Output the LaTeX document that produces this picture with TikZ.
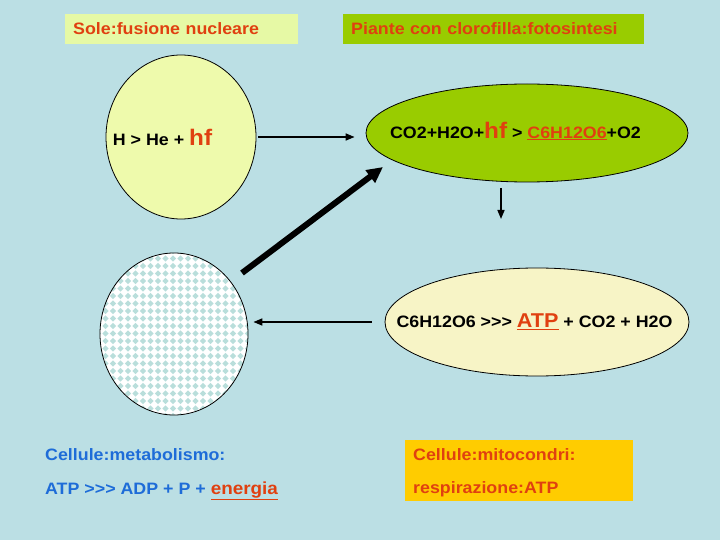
\documentclass[tikz,border=0pt]{standalone}
\usepackage{fontspec}
\setmainfont{Liberation Sans}[FakeStretch=1.08, Ligatures=TeXOff]
\usetikzlibrary{shapes.geometric,arrows.meta,calc}
\definecolor{bg}{HTML}{BBDFE4}
\definecolor{yelbox}{HTML}{E6F9A5}
\definecolor{yelcirc}{HTML}{EEFAAC}
\definecolor{grn}{HTML}{99CC00}
\definecolor{org}{HTML}{E04010}
\definecolor{blu}{HTML}{1E6CD8}
\definecolor{gold}{HTML}{FFCC00}
\definecolor{pale}{HTML}{F7F4C6}
\definecolor{pat}{HTML}{B9DEDB}
\tikzset{
  txt/.style={font=\fontsize{16.5}{18}\selectfont\bfseries, inner sep=0pt},
  hdrbox/.style={anchor=west, minimum height=30pt, inner xsep=8pt, inner ysep=0pt, align=left, text=org, font=\fontsize{16.5}{18}\selectfont\bfseries},
  shp/.style={draw=black, line width=0.8pt, ellipse, inner sep=0pt},
  thinarr/.style={line width=1.6pt, -{Triangle[length=9pt,width=7pt]}},
  thickarr/.style={line width=6pt, -{Triangle[length=16pt,width=15pt]}}
}
\newcommand{\bigt}[1]{{\fontsize{22.5}{23}\selectfont\color{org}#1}}
\begin{document}
\begin{tikzpicture}[x=1pt,y=-1pt]
\fill[bg] (0,0) rectangle (720,540);
\useasboundingbox (0,0) rectangle (720,540);
% headers
\node[hdrbox, fill=yelbox, text width=217pt] (sole) at (65,29) {Sole:fusione nucleare};
\node[hdrbox, fill=grn, text width=285pt] (piante) at (343,29) {Piante con clorofilla:fotosintesi};
% circle 1
\node[shp, fill=yelcirc, minimum width=150pt, minimum height=164pt] (c1) at (181,137) {};
\node[txt] (t1) at (162.5,137) {H > He + \bigt{hf}};
% ellipse 2
\node[shp, fill=grn, minimum width=322pt, minimum height=98pt] (e2) at (527,133) {};
\node[txt] (t2) at (515.5,131) {CO2+H2O+\bigt{hf} > {\color{org}\underline{C6H12O6}}+O2};
% patterned circle
\begin{scope}
\clip (174,334) ellipse [x radius=74, y radius=81];
\fill[white] (95,248) rectangle (255,420);
\foreach \i in {0,...,21}{
  \foreach \j in {0,...,23}{
    \fill[pat] ($(98,251)+(\i*7.5,\j*7.5)$) +(0,-3.2) -- +(3.2,0) -- +(0,3.2) -- +(-3.2,0) -- cycle;
  }
}
\end{scope}
\node[shp, minimum width=148pt, minimum height=162pt] (c3) at (174,334) {};
% ellipse 4
\node[shp, fill=pale, minimum width=304pt, minimum height=108pt] (e4) at (537,322) {};
\node[txt] (t4) at (534.5,322) {C6H12O6 >>> {\fontsize{20}{21}\selectfont\color{org}\underline{ATP}} + CO2 + H2O};
% arrows
\draw[thinarr, shorten <=2pt, shorten >=11pt] (c1.east) -- (c1.east -| e2.west);
\coordinate (va) at (501,188);
\coordinate (vb) at (501,219);
\draw[thinarr] (va) -- (vb);
\coordinate (ta) at (242,273);
\coordinate (tb) at (383,167);
\draw[thickarr] (ta) -- (tb);
\draw[thinarr, shorten <=13pt, shorten >=5pt] (e4.west) -- (e4.west -| c3.east);
% bottom texts
\node[txt, anchor=west, text=blu] (m1) at (45,455) {Cellule:metabolismo:};
\node[txt, anchor=west, text=blu] (m2) at (45,491) {ATP >>> ADP + P + {\fontsize{17.5}{19}\selectfont\color{org}\underline{energia}}};
\fill[gold] (405,440) rectangle (633,501);
\node[txt, anchor=west, text=org] (g1) at (413,455) {Cellule:mitocondri:};
\node[txt, anchor=west, text=org] (g2) at (413,489) {respirazione:ATP};
\end{tikzpicture}
\end{document}
